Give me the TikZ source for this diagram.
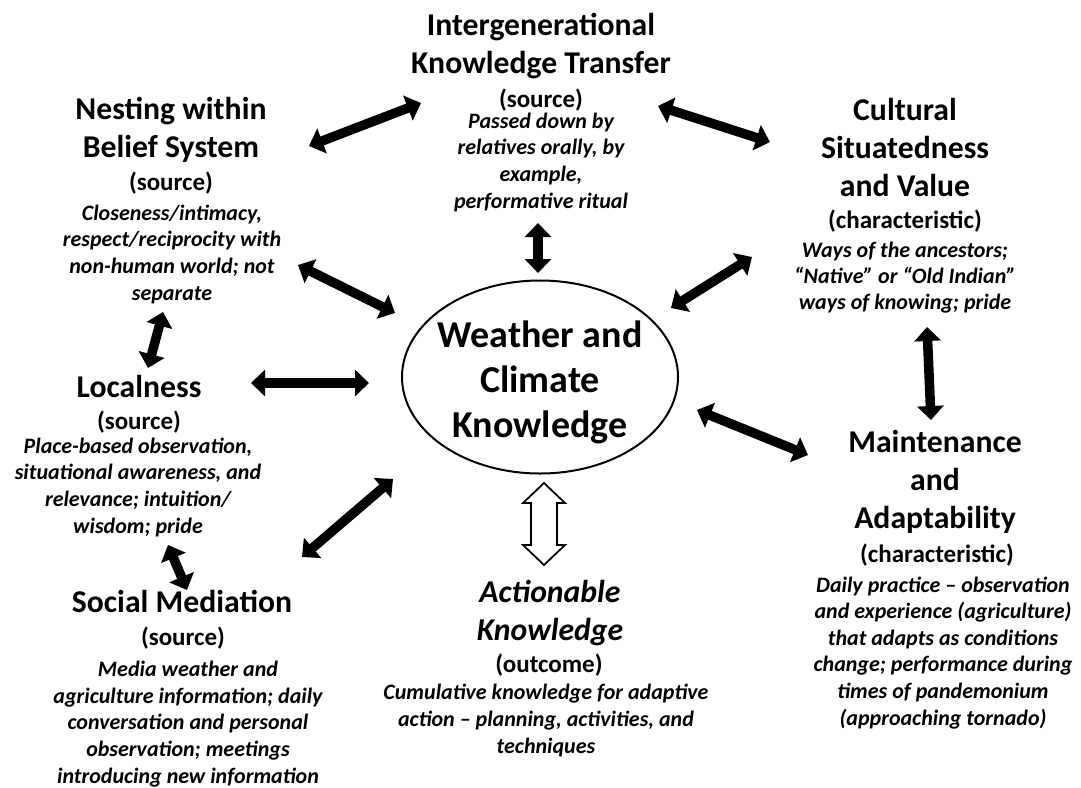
\documentclass[tikz,border=0pt]{standalone}
\usepackage{fontspec}
\setmainfont{Carlito}
\usetikzlibrary{arrows.meta,shapes.geometric,calc}

\begin{document}
\begin{tikzpicture}[x=1pt,y=-1pt,
  % multi-line text blocks are placed by the baseline of their last line
  ttl/.style={align=center,anchor=base,inner sep=0pt,font=\fontsize{31.7}{38}\selectfont\bfseries},
  lbl/.style={align=center,anchor=base,inner sep=0pt,font=\fontsize{25}{30}\selectfont\bfseries},
  dsc/.style={align=center,anchor=base,inner sep=0pt,font=\fontsize{22}{26.6}\selectfont\bfseries\itshape},
  dbl/.style={line width=9.5pt,{Triangle[length=14pt,width=26pt]}-{Triangle[length=14pt,width=26pt]}},
  hollow/.style={line width=1.8pt,fill=white,line join=miter}]

\useasboundingbox (0,0) rectangle (1081,787);
\fill[white] (0,0) rectangle (1081,787);

% central concept
\node[ellipse,draw,line width=2pt,minimum width=276pt,minimum height=193pt,inner sep=0pt] (wck) at (540,377) {};
\node[align=center,anchor=base,inner sep=0pt,font=\fontsize{38}{45}\selectfont\bfseries] (wckt) at (540,437) {Weather and\\Climate\\Knowledge};

% intergenerational knowledge transfer
\node[ttl] (ikt) at (541,73) {Intergenerational\\Knowledge Transfer};
\node[lbl] (ikts) at (541,107) {(source)};
\node[dsc] (iktd) at (541,208) {Passed down by\\relatives orally, by\\example,\\performative ritual};

% nesting within belief system
\node[ttl] (nbs) at (171,157) {Nesting within\\Belief System};
\node[lbl] (nbss) at (171,190) {(source)};
\node[dsc] (nbsd) at (172,300) {Closeness/intimacy,\\respect/reciprocity with\\non-human world; not\\separate};

% cultural situatedness and value
\node[ttl] (csv) at (905,196) {Cultural\\Situatedness\\and Value};
\node[lbl] (csvs) at (905,228) {(characteristic)};
\node[align=center,anchor=base,inner sep=0pt,font=\fontsize{22}{26}\selectfont\bfseries\itshape] (csvd) at (905,309) {Ways of the ancestors;\\“Native” or “Old Indian”\\ways of knowing; pride};

% localness
\node[ttl] (loc) at (139,397) {Localness};
\node[lbl] (locs) at (139,429) {(source)};
\node[dsc] (locd) at (138,533) {Place-based observation,\\situational awareness, and\\relevance; intuition/\\wisdom; pride};

% social mediation
\node[ttl] (soc) at (182,612) {Social Mediation};
\node[lbl] (socs) at (183,645) {(source)};
\node[dsc] (socd) at (188,783) {Media weather and\\agriculture information; daily\\conversation and personal\\observation; meetings\\introducing new information};

% actionable knowledge
\node[ttl,font=\fontsize{31.7}{38}\selectfont\bfseries\itshape] (ak) at (550,640) {Actionable\\Knowledge};
\node[lbl] (aks) at (549,672) {(outcome)};
\node[dsc] (akd) at (546,753) {Cumulative knowledge for adaptive\\action – planning, activities, and\\techniques};

% maintenance and adaptability
\node[ttl] (maa) at (935,528) {Maintenance\\and\\Adaptability};
\node[lbl] (maas) at (937,562) {(characteristic)};
\node[dsc] (maad) at (943,725) {Daily practice – observation\\and experience (agriculture)\\that adapts as conditions\\change; performance during\\times of pandemonium\\(approaching tornado)};

% arrow end points
\coordinate (a1s) at (309,146);  \coordinate (a1e) at (421,103);
\coordinate (a2s) at (658,106);  \coordinate (a2e) at (770,142);
\coordinate (a3s) at (538,223);  \coordinate (a3e) at (538,273);
\coordinate (a4s) at (298,265);  \coordinate (a4e) at (395,313);
\coordinate (a5s) at (251,383);  \coordinate (a5e) at (369,383);
\coordinate (a6s) at (302,557);  \coordinate (a6e) at (393,479);
\coordinate (a7s) at (671,308);  \coordinate (a7e) at (752,257);
\coordinate (a8s) at (697,410);  \coordinate (a8e) at (808,455);
\coordinate (a9s) at (927,327);  \coordinate (a9e) at (931,420);
\coordinate (a10s) at (163,312); \coordinate (a10e) at (148,368);
\coordinate (a11s) at (168,545); \coordinate (a11e) at (187,590);
\coordinate (a12s) at (544,483); \coordinate (a12e) at (544,565);

% solid double-headed connectors
\draw[dbl] (a1s) -- (a1e);
\draw[dbl] (a2s) -- (a2e);
\draw[dbl] (a3s) -- (a3e);
\draw[dbl] (a4s) -- (a4e);
\draw[dbl] (a5s) -- (a5e);
\draw[dbl] (a6s) -- (a6e);
\draw[dbl] (a7s) -- (a7e);
\draw[dbl] (a8s) -- (a8e);
\draw[dbl] (a9s) -- (a9e);
\draw[dbl] (a10s) -- (a10e);
\draw[dbl] (a11s) -- (a11e);

% hollow double-headed connector to the outcome
\draw[hollow] (a12s) -- ($(a12s)+(21,20)$) -- ($(a12s)+(13,20)$) -- ($(a12e)+(13,-20)$)
  -- ($(a12e)+(21,-20)$) -- (a12e) -- ($(a12e)+(-21,-20)$) -- ($(a12e)+(-13,-20)$)
  -- ($(a12s)+(-13,20)$) -- ($(a12s)+(-21,20)$) -- cycle;

\end{tikzpicture}
\end{document}
